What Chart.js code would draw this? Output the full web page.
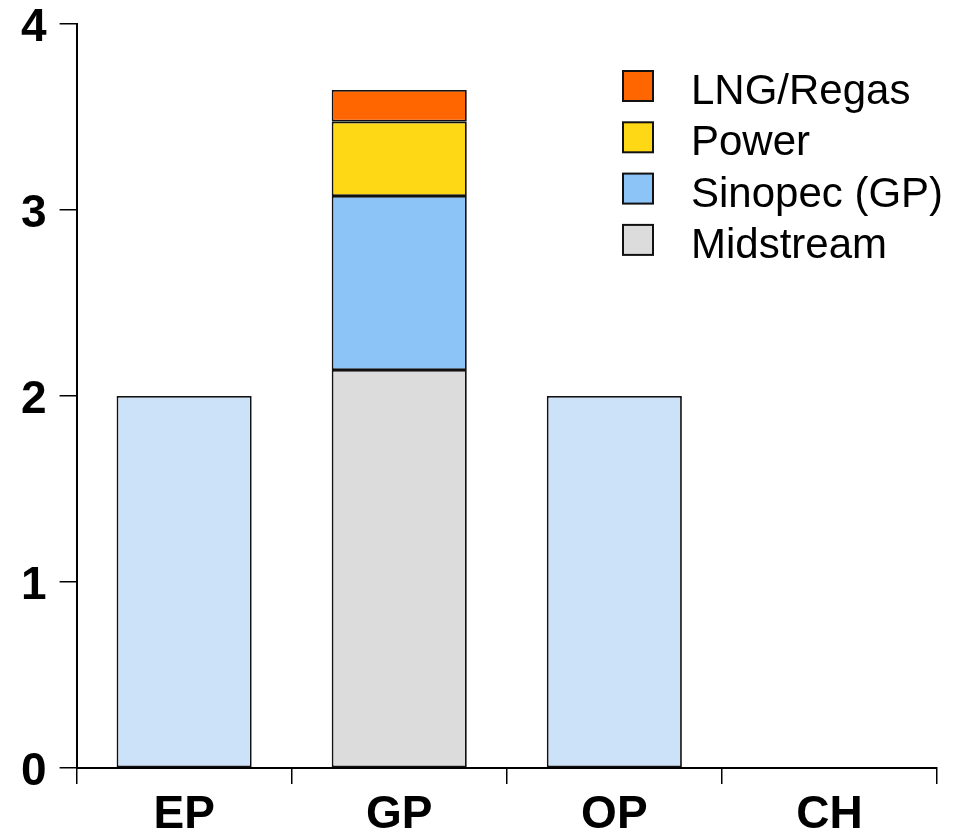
<!DOCTYPE html>
<html>
<head>
<meta charset="utf-8">
<script src="https://cdn.jsdelivr.net/npm/chart.js@4/dist/chart.umd.min.js"></script>
<style>
  html, body { margin: 0; padding: 0; background: #fff; }
  #wrap { width: 957px; height: 836px; }
</style>
</head>
<body>
<div id="wrap"><canvas id="c" width="957" height="836"></canvas></div>
<script>
const categories = ['EP', 'GP', 'OP', 'CH'];
const divisionTotal = [2, null, 2, null];
const midstream = [null, 2.14, null, null];
const sinopecGP = [null, 0.935, null, null];
const power = [null, 0.40, null, null];
const lngRegas = [null, 0.17, null, null];
const yTicks = [0, 1, 2, 3, 4];

const legendPlugin = {
  id: 'insideLegend',
  afterDraw(chart) {
    const ctx = chart.ctx;
    const items = chart.data.datasets.filter(d => d.showInLegend).slice().reverse();
    ctx.save();
    ctx.font = '42px "Liberation Sans", Arial, sans-serif';
    ctx.textBaseline = 'alphabetic';
    ctx.textAlign = 'left';
    items.forEach((d, i) => {
      const x = 623, y = 71 + i * 51.3;
      ctx.fillStyle = d.backgroundColor;
      ctx.fillRect(x, y, 30, 30);
      ctx.lineWidth = 2;
      ctx.strokeStyle = '#111';
      ctx.strokeRect(x, y, 30, 30);
      ctx.fillStyle = '#000';
      ctx.fillText(d.label, 691, y + 33);
    });
    ctx.restore();
  }
};

const barCommon = {
  borderColor: '#111',
  borderWidth: 1.8,
  borderSkipped: false,
  categoryPercentage: 1,
  barPercentage: 0.628
};

new Chart(document.getElementById('c'), {
  type: 'bar',
  data: {
    labels: categories,
    datasets: [
      Object.assign({ label: 'Division', data: divisionTotal, backgroundColor: '#CCE2F9', showInLegend: false }, barCommon),
      Object.assign({ label: 'Midstream', data: midstream, backgroundColor: '#DCDCDC', showInLegend: true }, barCommon),
      Object.assign({ label: 'Sinopec (GP)', data: sinopecGP, backgroundColor: '#8DC4F8', showInLegend: true }, barCommon),
      Object.assign({ label: 'Power', data: power, backgroundColor: '#FFD815', showInLegend: true }, barCommon),
      Object.assign({ label: 'LNG/Regas', data: lngRegas, backgroundColor: '#FF6600', showInLegend: true }, barCommon)
    ]
  },
  options: {
    responsive: false,
    animation: false,
    layout: { padding: { left: 8, right: 20, top: 24, bottom: -10 } },
    plugins: {
      legend: { display: false },
      tooltip: { enabled: false }
    },
    scales: {
      x: {
        stacked: true,
        offset: true,
        grid: { display: true, offset: true, drawOnChartArea: false, drawTicks: true, tickLength: 16, color: '#000', lineWidth: 1.5 },
        border: { display: true, color: '#000', width: 2 },
        ticks: {
          color: '#000',
          padding: 8,
          font: { family: '"Liberation Sans", Arial, sans-serif', size: 46, weight: 'bold', lineHeight: 1 }
        }
      },
      y: {
        stacked: true,
        min: 0,
        max: 4,
        afterBuildTicks(axis) { axis.ticks = yTicks.map(v => ({ value: v })); },
        afterFit(axis) { axis.paddingTop = 0; axis.paddingBottom = 0; },
        grid: { display: true, drawOnChartArea: false, drawTicks: true, tickLength: 17, color: '#000', lineWidth: 1.5 },
        border: { display: true, color: '#000', width: 2 },
        ticks: {
          color: '#000',
          padding: 13,
          labelOffset: 4,
          font: { family: '"Liberation Sans", Arial, sans-serif', size: 46, weight: 'bold', lineHeight: 1 }
        }
      }
    }
  },
  plugins: [legendPlugin]
});
</script>
</body>
</html>
